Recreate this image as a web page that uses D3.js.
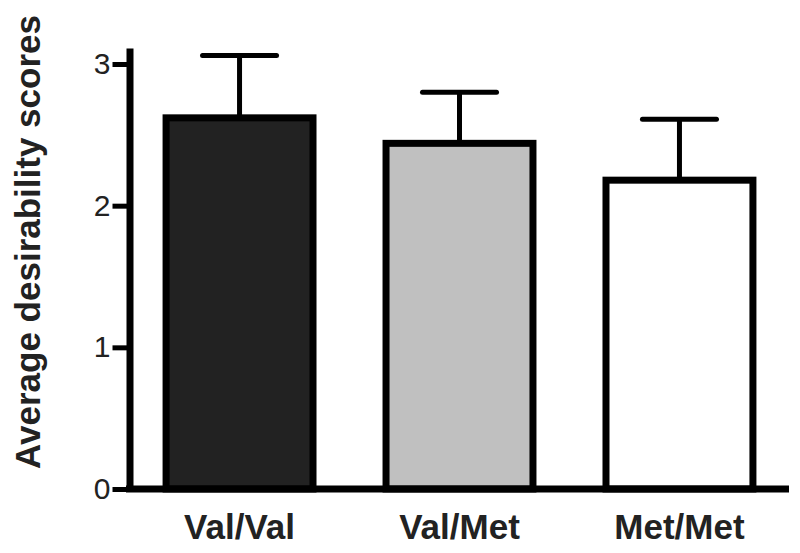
<!DOCTYPE html>
<html>
<head>
<meta charset="utf-8">
<script src="https://cdn.jsdelivr.net/npm/d3@7"></script>
<style>
  body { margin: 0; background: #fff; }
  text { font-family: "Liberation Sans", Arial, Helvetica, sans-serif; fill: #222; }
</style>
</head>
<body>
<div id="chart"></div>
<script>
var genotypes = ['Val/Val', 'Val/Met', 'Met/Met'];
var means = [2.62, 2.44, 2.18];
var errors = [0.44, 0.36, 0.43];
var fills = ['#222222', '#c0c0c0', '#ffffff'];
var yTicks = [0, 1, 2, 3];

var width = 800, height = 553;

var data = genotypes.map(function(g, i){
  return { name: g, mean: means[i], err: errors[i], fill: fills[i] };
});

var x = d3.scaleBand()
  .domain(genotypes)
  .range([130, 789])
  .paddingInner(0.332)
  .paddingOuter(0.164);

var y = d3.scaleLinear()
  .domain([0, 3.113])
  .range([489, 48]);

var svg = d3.select('#chart').append('svg')
  .attr('width', width)
  .attr('height', height);

// error bars (upper only), drawn behind the bars
var err = svg.append('g').attr('class', 'errors');
err.selectAll('line.stem')
  .data(data)
  .enter().append('line')
    .attr('class', 'stem')
    .attr('x1', function(d){ return x(d.name) + x.bandwidth() / 2; })
    .attr('x2', function(d){ return x(d.name) + x.bandwidth() / 2; })
    .attr('y1', function(d){ return y(d.mean); })
    .attr('y2', function(d){ return y(d.mean + d.err); })
    .attr('stroke', '#000')
    .attr('stroke-width', 5);
err.selectAll('line.cap')
  .data(data)
  .enter().append('line')
    .attr('class', 'cap')
    .attr('x1', function(d){ return x(d.name) + x.bandwidth() / 2 - 37; })
    .attr('x2', function(d){ return x(d.name) + x.bandwidth() / 2 + 37; })
    .attr('y1', function(d){ return y(d.mean + d.err); })
    .attr('y2', function(d){ return y(d.mean + d.err); })
    .attr('stroke', '#000')
    .attr('stroke-width', 5)
    .attr('stroke-linecap', 'round');

// bars
svg.append('g').selectAll('rect')
  .data(data)
  .enter().append('rect')
    .attr('x', function(d){ return x(d.name); })
    .attr('y', function(d){ return y(d.mean); })
    .attr('width', x.bandwidth())
    .attr('height', function(d){ return y(0) - y(d.mean); })
    .attr('fill', function(d){ return d.fill; })
    .attr('stroke', '#000')
    .attr('stroke-width', 7);

// y axis
var yAxis = svg.append('g')
  .attr('transform', 'translate(129.5,0)')
  .call(d3.axisLeft(y)
    .tickValues(yTicks)
    .tickFormat(d3.format('d'))
    .tickSize(17)
    .tickSizeOuter(0)
    .tickPadding(2)
  );
yAxis.select('.domain')
  .attr('stroke', '#000')
  .attr('stroke-width', 7);
yAxis.selectAll('.tick line')
  .attr('stroke', '#000')
  .attr('stroke-width', 5);
yAxis.selectAll('.tick text')
  .style('font-size', '30px')
  .attr('fill', '#222');

// x axis
var xAxis = svg.append('g')
  .attr('transform', 'translate(0,489)')
  .call(d3.axisBottom(x).tickSize(0).tickSizeOuter(0).tickPadding(0));
xAxis.select('.domain').remove();
xAxis.append('line')
  .attr('x1', 126)
  .attr('x2', 789)
  .attr('stroke', '#000')
  .attr('stroke-width', 7);
xAxis.selectAll('.tick text')
  .attr('y', 50)
  .attr('dy', 0)
  .style('font-size', '35px')
  .style('font-weight', 'bold')
  .attr('fill', '#222');

// y axis label
svg.append('text')
  .attr('transform', 'translate(40,242) rotate(-90)')
  .style('text-anchor', 'middle')
  .style('font-size', '35px')
  .style('font-weight', 'bold')
  .text('Average desirability scores');
</script>
</body>
</html>
